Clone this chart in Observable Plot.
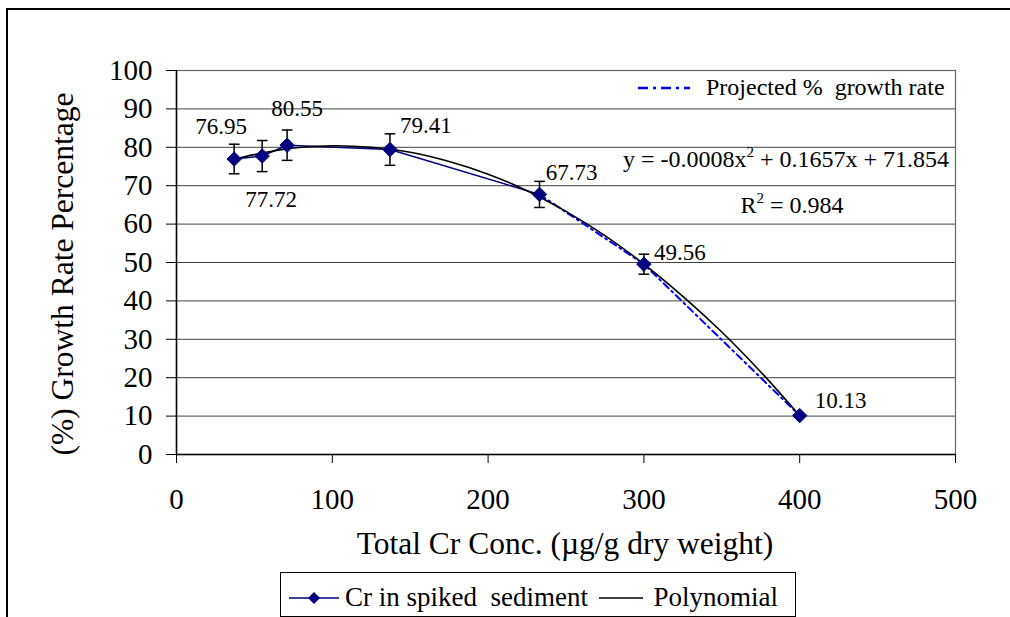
<!DOCTYPE html>
<html>
<head>
<meta charset="utf-8">
<script src="https://cdn.jsdelivr.net/npm/d3@7"></script>
<script src="https://cdn.jsdelivr.net/npm/@observablehq/plot@0.6"></script>
<style>
  body { margin: 0; background: #fff; }
  #wrap { position: relative; width: 1010px; height: 617px; overflow: hidden; font-family: "Liberation Serif", "Times New Roman", serif; color: #000; }
  #frame { position: absolute; left: 6px; top: 8px; width: 1020px; height: 640px; border-left: 2px solid #000; border-top: 2px solid #000; pointer-events: none; }
  #chart { position: absolute; left: 0; top: 0; }
  .ytitle { position: absolute; left: 63px; top: 274px; transform: translate(-50%, -50%) rotate(-90deg); white-space: nowrap; font-size: 31.5px; }
  .xtitle { position: absolute; left: 565px; top: 544px; transform: translate(-50%, -50%); white-space: nowrap; font-size: 31.5px; }
  .legend { position: absolute; left: 280px; top: 572px; width: 516px; height: 45px; box-sizing: border-box; padding-top: 6px; border: 1px solid #000; background: #fff; display: flex; align-items: center; font-size: 27px; white-space: pre; }
  .legend svg { flex: none; }
  .proj { position: absolute; left: 636px; top: 74px; display: flex; align-items: center; font-size: 24px; white-space: pre; }
  .eq { position: absolute; right: 61px; top: 146px; font-size: 24px; white-space: nowrap; }
  .r2 { position: absolute; left: 792px; top: 192px; transform: translateX(-50%); font-size: 24px; white-space: nowrap; }
  sup { font-size: 15px; vertical-align: 10px; line-height: 0; }
</style>
</head>
<body>
<div id="wrap">
  <div id="chart"></div>
  <div class="ytitle">(%) Growth Rate Percentage</div>
  <div class="xtitle">Total Cr Conc. (µg/g dry weight)</div>
  <div class="proj"><svg width="58" height="10"><line x1="2" y1="5" x2="54" y2="5" stroke="#0000ff" stroke-width="2.5" stroke-dasharray="10,5,3,5"/></svg><span>  Projected %  growth rate</span></div>
  <div class="eq">y = -0.0008x<sup>2</sup> + 0.1657x + 71.854</div>
  <div class="r2">R<sup>2</sup> = 0.984</div>
  <div class="legend">
    <svg width="58" height="20" style="margin-left:6px"><line x1="2" y1="10" x2="52" y2="10" stroke="#000080" stroke-width="1.5"/><path d="M27,4 L33,10 L27,16 L21,10 Z" fill="#000080"/></svg><span>Cr in spiked  sediment </span><svg width="52" height="20"><line x1="4" y1="10" x2="48" y2="10" stroke="#000" stroke-width="1.5"/></svg><span> Polynomial</span>
  </div>
  <div id="frame"></div>
</div>
<script>
// ---- data ----
const conc = [37, 55, 71, 137, 233, 300, 400];           // Total Cr (µg/g dry weight)
const growth = [76.95, 77.72, 80.55, 79.41, 67.73, 49.56, 10.13]; // % growth rate
const errBar = [3.85, 4.05, 3.95, 4.1, 3.4, 2.6, 0];      // ± error
const measuredCount = 5;   // solid series runs through the first five points
const projectedStart = 4;  // dash-dot projection from 233 onward
// polynomial trend curve
const polyX = [37, 50, 75, 100, 125, 150, 175, 200, 225, 250, 275, 300, 325, 350, 375, 400];
const polyY = [76.9, 78.1, 79.8, 80.4, 80.0, 78.7, 76.3, 73.0, 68.7, 63.3, 57.0, 49.6, 41.2, 31.9, 21.5, 10.1];
const xTicks = [0, 100, 200, 300, 400, 500];
const yTicks = [0, 10, 20, 30, 40, 50, 60, 70, 80, 90, 100];
// label offsets (pixels) for the value labels
const labelOffsets = [[-13, -32], [9, 44], [10, -37], [36, -24], [32, -22], [36, -12], [41, -15]];

const pts = conc.map((x, i) => ({x, y: growth[i], e: errBar[i], label: growth[i].toFixed(2)}));
const poly = polyX.map((x, i) => ({x, y: polyY[i]}));
const measured = pts.slice(0, measuredCount);
const projected = pts.slice(projectedStart);
const withErr = pts.filter(d => d.e > 0);

const capSymbol = {
  draw(context, size) {
    const w = Math.sqrt(size) / 2;
    context.moveTo(-w, 0);
    context.lineTo(w, 0);
  }
};

const font = '"Liberation Serif", "Times New Roman", serif';

const chart = Plot.plot({
  width: 1010,
  height: 617,
  marginLeft: 176,
  marginRight: 55,
  marginTop: 70,
  marginBottom: 163,
  style: {fontFamily: font, fontSize: "29px", color: "#000", background: "transparent", overflow: "visible"},
  x: {domain: [0, 500]},
  y: {domain: [0, 100]},
  marks: [
    Plot.gridY(yTicks, {stroke: "#000", strokeOpacity: 0.75, strokeWidth: 1}),
    Plot.frame({stroke: "#666", strokeWidth: 1.2}),
    Plot.axisY(yTicks, {tickSize: 10, tickPadding: 14, label: null, fontSize: 29, tickFormat: d => String(d)}),
    Plot.axisX(xTicks, {tickSize: 9, tickPadding: 25, label: null, fontSize: 29, tickFormat: d => String(d)}),
    Plot.ruleX([0], {stroke: "#000", strokeWidth: 1.5}),
    Plot.ruleY([0], {stroke: "#000", strokeWidth: 1.5}),
    // projected (dash-dot)
    Plot.line(projected, {x: "x", y: "y", stroke: "#0000ff", strokeWidth: 2, strokeDasharray: "7,4,2,4"}),
    // measured series line
    Plot.line(measured, {x: "x", y: "y", stroke: "#000080", strokeWidth: 1.5}),
    // polynomial trend
    Plot.line(poly, {x: "x", y: "y", stroke: "#000", strokeWidth: 1.6, curve: "catmull-rom"}),
    // error bars
    Plot.ruleX(withErr, {x: "x", y1: d => d.y - d.e, y2: d => d.y + d.e, stroke: "#000", strokeWidth: 1.5}),
    Plot.dot(withErr, {x: "x", y: d => d.y - d.e, symbol: capSymbol, r: 6, stroke: "#000", strokeWidth: 1.5, fill: "none"}),
    Plot.dot(withErr, {x: "x", y: d => d.y + d.e, symbol: capSymbol, r: 6, stroke: "#000", strokeWidth: 1.5, fill: "none"}),
    // markers
    Plot.dot(pts, {x: "x", y: "y", symbol: "diamond2", r: 6.5, fill: "#000080", stroke: "#000080", strokeWidth: 1}),
    // value labels
    ...pts.map((d, i) => Plot.text([d], {x: "x", y: "y", text: "label", dx: labelOffsets[i][0], dy: labelOffsets[i][1], fontSize: 23, fill: "#000", textAnchor: "middle"}))
  ]
});
document.getElementById("chart").appendChild(chart);
</script>
</body>
</html>
